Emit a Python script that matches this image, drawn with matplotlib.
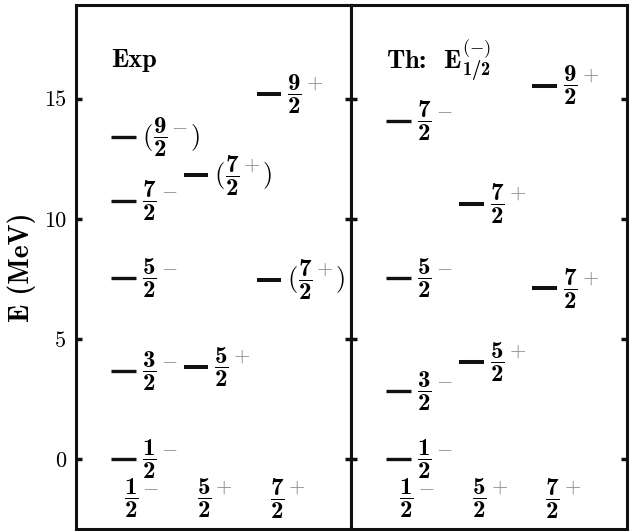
import matplotlib
matplotlib.use("Agg")
import matplotlib.pyplot as plt

plt.rcParams['font.family'] = 'cmr10'
plt.rcParams['mathtext.fontset'] = 'custom'
plt.rcParams['mathtext.rm'] = 'cmr10'
plt.rcParams['mathtext.it'] = 'cmmi10'
plt.rcParams['mathtext.bf'] = 'cmb10'
plt.rcParams['mathtext.cal'] = 'cmsy10'
plt.rcParams['mathtext.fallback'] = 'cm'
plt.rcParams['axes.unicode_minus'] = False

# spin columns (numerator of J/2, parity)
col_num = ['1', '5', '7']
col_par = ['-', '+', '+']

# levels: column index, energy (MeV), J numerator, parity, tentative
exp_col = [0, 0, 0, 0, 0, 1, 1, 2, 2]
exp_E = [0.0, 3.68, 7.53, 10.75, 13.39, 3.85, 11.8, 7.46, 15.2]
exp_num = ['1', '3', '5', '7', '9', '5', '7', '7', '9']
exp_par = ['-', '-', '-', '-', '-', '+', '+', '+', '+']
exp_tent = [False, False, False, False, True, False, True, True, False]

th_col = [0, 0, 0, 0, 1, 1, 2, 2]
th_E = [0.0, 2.83, 7.53, 14.08, 4.04, 10.62, 7.1, 15.54]
th_num = ['1', '3', '5', '7', '5', '7', '7', '9']
th_par = ['-', '-', '-', '-', '+', '+', '+', '+']
th_tent = [False] * 8

col_x = [0.172, 0.437, 0.702]
half_w = 0.045
px = 0.72  # points per pixel at dpi 100
grey = '#8a8a8a'
fs = 18


def sign(p):
    return r'$-$' if p == '-' else r'$+$'


def frac(n):
    return r'$\dfrac{\mathbf{%s}}{\mathbf{2}}$' % n


def draw_label(ax, x0, y, num, par, tent):
    def put(s, dx, dy, **kw):
        ax.annotate(s, (x0, y), xytext=(dx * px, dy * px), textcoords='offset points',
                    ha='left', va='center', **kw)
    if tent:
        put(r'$($', 6, 0, fontsize=19)
        put(frac(num), 17, 0, fontsize=fs)
        put(sign(par), 35, 10, fontsize=15, color=grey)
        put(r'$)$', 54, 0, fontsize=19)
    else:
        put(frac(num), 6, 0, fontsize=fs)
        put(sign(par), 25, 10, fontsize=15, color=grey)


def panel(ax, cols, E, nums, pars, tents, title):
    for c, e, n, p, t in zip(cols, E, nums, pars, tents):
        lw = 2.4 if c == 0 else 2.9
        ax.hlines(e, col_x[c] - half_w, col_x[c] + half_w, colors='#111111', lw=lw)
        draw_label(ax, col_x[c] + half_w, e, n, p, t)
    for i in range(3):
        ax.annotate(frac(col_num[i]), (col_x[i] + 0.03, -1.62),
                    ha='center', va='center', fontsize=fs)
        ax.annotate(sign(col_par[i]), (col_x[i] + 0.03, -1.62), xytext=(11 * px, 10 * px),
                    textcoords='offset points', ha='left', va='center', fontsize=15, color=grey)
    ax.text(0.128, 16.6, title, fontsize=19, ha='left', va='center', family='cmb10')
    ax.set_xlim(0, 1)
    ax.set_ylim(-2.9, 18.9)
    ax.set_xticks([])
    ax.set_yticks([0, 5, 10, 15])
    ax.tick_params(axis='y', direction='in', length=4, width=2.5, left=True, right=True,
                   labelsize=16, pad=7, color='#111111')
    for s in ax.spines.values():
        s.set_linewidth(2.2)
        s.set_color('#111111')


fig = plt.figure(figsize=(6.38, 5.31), dpi=100)
ax1 = fig.add_axes([0.119, 0.004, 0.431, 0.987])
ax2 = fig.add_axes([0.550, 0.004, 0.432, 0.987])

panel(ax1, exp_col, exp_E, exp_num, exp_par, exp_tent, 'Exp')
panel(ax2, th_col, th_E, th_num, th_par, th_tent,
      r'Th:  $\mathbf{E}^{(-)}_{\mathbf{1/2}}$')
ax2.tick_params(axis='y', labelleft=False)
ax1.set_ylabel('E (MeV)', fontsize=20, labelpad=6, family='cmb10')

fig.savefig('out.png', dpi=100)
